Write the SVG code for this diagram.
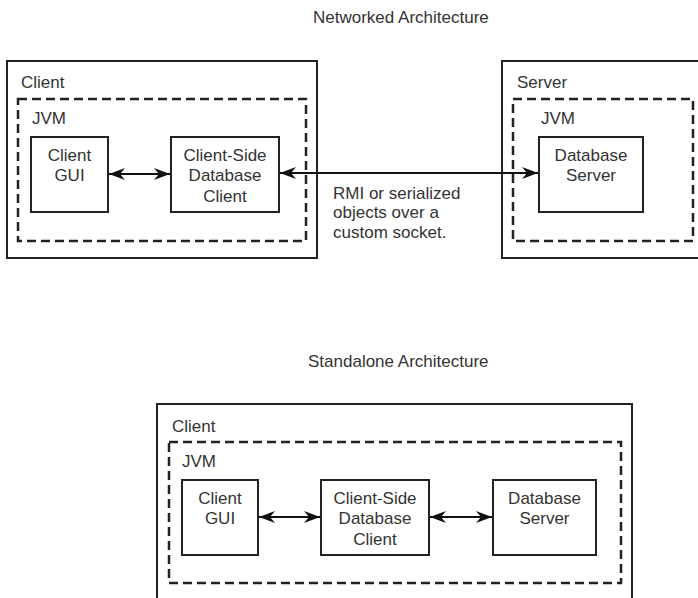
<svg xmlns="http://www.w3.org/2000/svg" width="698" height="598" viewBox="0 0 698 598">
<style>
text { font-family: "Liberation Sans", Arial, sans-serif; font-size: 17px; fill: #333; }
.c { text-anchor: middle; }
.outer { fill: none; stroke: #222; stroke-width: 2; }
.jvm { fill: none; stroke: #222; stroke-width: 2.5; stroke-dasharray: 9 5; }
.box { fill: #fff; stroke: #222; stroke-width: 2; }
.conn { fill: none; stroke: #111; stroke-width: 2; marker-start: url(#ah); marker-end: url(#ah); }
</style>
<defs>
<marker id="ah" viewBox="0 0 16 12" refX="16" refY="6" markerWidth="16" markerHeight="12" orient="auto-start-reverse" markerUnits="userSpaceOnUse">
<path d="M0,0 L16,6 L0,12 L5,6 z" fill="#111"/>
</marker>
</defs>
<rect width="698" height="598" fill="#fff"/>

<text x="313" y="23">Networked Architecture</text>
<text x="308" y="367">Standalone Architecture</text>

<g id="net-client">
<rect class="outer" x="7" y="61" width="310" height="197"/>
<text x="21" y="88">Client</text>
</g>
<g id="net-client-jvm">
<rect class="jvm" x="18" y="99" width="288" height="142"/>
<text x="32" y="124">JVM</text>
</g>
<g id="net-gui">
<rect class="box" x="31" y="137" width="77" height="75"/>
<text class="c" x="69.5" y="161">Client</text>
<text class="c" x="69.5" y="181">GUI</text>
</g>
<g id="net-csdc">
<rect class="box" x="171" y="137" width="108" height="75"/>
<text class="c" x="225" y="161">Client-Side</text>
<text class="c" x="225" y="181">Database</text>
<text class="c" x="225" y="202">Client</text>
</g>
<g id="net-server">
<rect class="outer" x="502" y="61" width="210" height="197"/>
<text x="517" y="88">Server</text>
</g>
<g id="net-server-jvm">
<rect class="jvm" x="513" y="99" width="180" height="142"/>
<text x="541" y="124">JVM</text>
</g>
<g id="net-dbserver">
<rect class="box" x="539" y="137" width="104" height="75"/>
<text class="c" x="591" y="161">Database</text>
<text class="c" x="591" y="181">Server</text>
</g>
<g id="rmi-label">
<text x="333" y="199">RMI or serialized</text>
<text x="333" y="218">objects over a</text>
<text x="333" y="238">custom socket.</text>
</g>

<g id="sa-client">
<rect class="outer" x="157" y="404" width="475" height="210"/>
<text x="172" y="432">Client</text>
</g>
<g id="sa-jvm">
<rect class="jvm" x="169" y="442" width="452" height="141"/>
<text x="182" y="467">JVM</text>
</g>
<g id="sa-gui">
<rect class="box" x="182" y="480" width="76" height="75"/>
<text class="c" x="220" y="504">Client</text>
<text class="c" x="220" y="524">GUI</text>
</g>
<g id="sa-csdc">
<rect class="box" x="321" y="480" width="108" height="75"/>
<text class="c" x="375" y="504">Client-Side</text>
<text class="c" x="375" y="524">Database</text>
<text class="c" x="375" y="545">Client</text>
</g>
<g id="sa-dbserver">
<rect class="box" x="493" y="480" width="103" height="75"/>
<text class="c" x="544.5" y="504">Database</text>
<text class="c" x="544.5" y="524">Server</text>
</g>

<g id="connectors">
<line class="conn" x1="109" y1="174" x2="170" y2="174"/>
<line class="conn" x1="280" y1="173" x2="538" y2="173"/>
<line class="conn" x1="259" y1="517" x2="320" y2="517"/>
<line class="conn" x1="430" y1="517" x2="492" y2="517"/>
</g>
</svg>
